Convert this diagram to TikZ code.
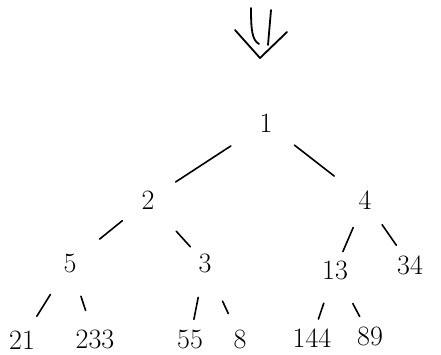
\documentclass[tikz,border=0pt]{standalone}
\begin{document}
\begin{tikzpicture}[x=1pt,y=-1pt,
  num/.style={inner sep=0pt,font=\fontsize{28}{30}\selectfont},
  edge/.style={line width=1.6pt,line cap=round},
  stroke/.style={line width=1.8pt,line cap=round,line join=round}]
\useasboundingbox (0,0) rectangle (441,354);
\fill[white] (0,0) rectangle (441,354);
% nodes
\node[num] (n1)   at (266,123) {1};
\node[num] (n2)   at (148,200) {2};
\node[num] (n4)   at (365,200) {4};
\node[num] (n5)   at (70,263)  {5};
\node[num] (n3)   at (205,263) {3};
\node[num] (n13)  at (335,270) {13};
\node[num] (n34)  at (410,265) {34};
\node[num] (n21)  at (22,340)  {21};
\node[num] (n233) at (95,339)  {233};
\node[num] (n55)  at (190,339) {55};
\node[num] (n8)   at (240,339) {8};
\node[num] (n144) at (312,338) {144};
\node[num] (n89)  at (370,336) {89};
% arrow on top
\draw[stroke] (235,30) -- (260,58) -- (287,32);
\draw[stroke] (251,8) .. controls (251,30) and (252,40) .. (259,44);
\draw[stroke] (271,10) -- (268,45);
% edges
\draw[edge,shorten <=42pt,shorten >=33pt] (n1.center) -- (n2.center);
\draw[edge,shorten <=36pt,shorten >=39pt] (n1.center) -- (n4.center);
\draw[edge,shorten <=33pt,shorten >=38pt] (n2.center) -- (n5.center);
\draw[edge,shorten <=42pt,shorten >=22pt] (n2.center) -- (n3.center);
\draw[edge,shorten <=30pt,shorten >=20pt] (n4.center) -- (n13.center);
\draw[edge,shorten <=30pt,shorten >=24pt] (n4.center) -- (n34.center);
\draw[edge,shorten <=37pt,shorten >=28pt] (n5.center) -- (n21.center);
\draw[edge,shorten <=35pt,shorten >=30pt] (n5.center) -- (n233.center);
\draw[edge,shorten <=35pt,shorten >=20pt] (n3.center) -- (n55.center);
\draw[edge,shorten <=42pt,shorten >=28pt] (n3.center) -- (n8.center);
\draw[edge,shorten <=35pt,shorten >=20pt] (n13.center) -- (n144.center);
\draw[edge,shorten <=38pt,shorten >=22pt] (n13.center) -- (n89.center);
\end{tikzpicture}
\end{document}
